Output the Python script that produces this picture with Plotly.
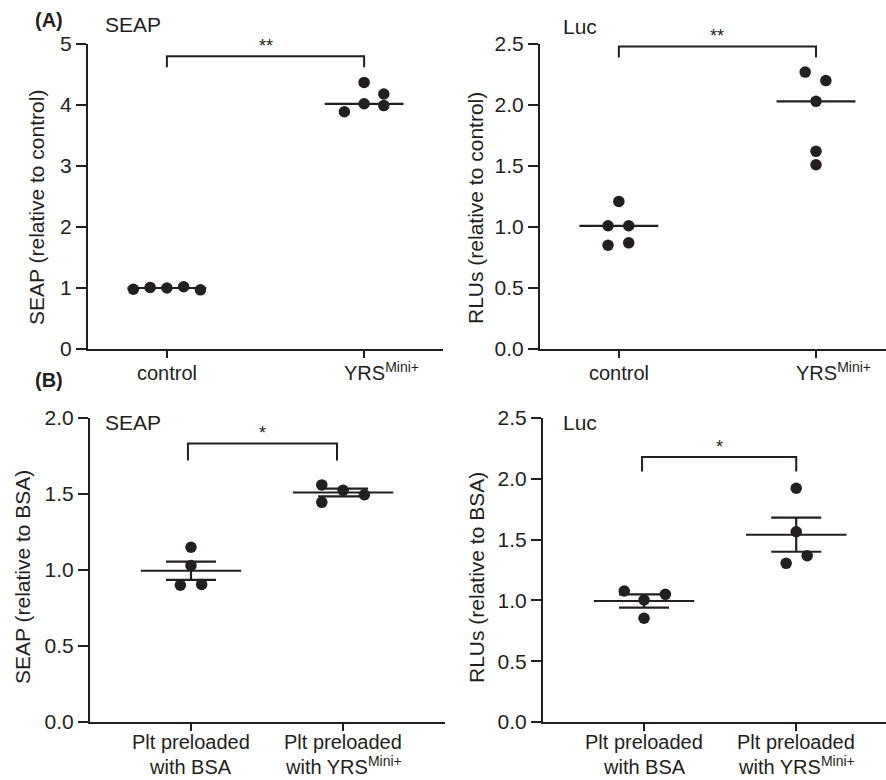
import plotly.graph_objects as go

# ---------------- data ----------------
# Panel A, SEAP
a_seap_categories = ["control", "YRS<sup>Mini+</sup>"]
a_seap_control = [0.98, 1.01, 1.00, 1.02, 0.97]
a_seap_yrs = [3.89, 4.37, 4.02, 4.18, 3.99]
a_seap_medians = [1.00, 4.02]
a_seap_yticks = [0, 1, 2, 3, 4, 5]

# Panel A, Luc
a_luc_categories = ["control", "YRS<sup>Mini+</sup>"]
a_luc_control = [1.21, 1.01, 1.01, 0.85, 0.87]
a_luc_yrs = [2.27, 2.20, 2.03, 1.62, 1.51]
a_luc_medians = [1.01, 2.03]
a_luc_yticks = [0.0, 0.5, 1.0, 1.5, 2.0, 2.5]

# Panel B, SEAP
b_seap_categories = [["Plt preloaded", "with BSA"], ["Plt preloaded", "with YRS<sup>Mini+</sup>"]]
b_seap_bsa = [1.15, 1.03, 0.90, 0.905]
b_seap_yrs = [1.56, 1.445, 1.525, 1.495]
b_seap_means = [0.995, 1.51]
b_seap_sem = [0.06, 0.025]
b_seap_yticks = [0.0, 0.5, 1.0, 1.5, 2.0]

# Panel B, Luc
b_luc_categories = [["Plt preloaded", "with BSA"], ["Plt preloaded", "with YRS<sup>Mini+</sup>"]]
b_luc_bsa = [1.077, 1.05, 1.003, 0.853]
b_luc_yrs = [1.922, 1.565, 1.305, 1.368]
b_luc_means = [0.995, 1.54]
b_luc_sem = [0.055, 0.14]
b_luc_yticks = [0.0, 0.5, 1.0, 1.5, 2.0, 2.5]

# significance labels
sig_labels = ["**", "**", "*", "*"]

# ---------------- layout / style (positions) ----------------
W, H = 886, 780
INK = "#231f20"
FONT = "Liberation Sans, Arial, Helvetica, sans-serif"
FS = 20

# scatter offsets (horizontal spread of dots, category units)
a_seap_control_dx = [-0.17, -0.085, 0.0, 0.085, 0.17]
a_seap_yrs_dx = [-0.10, 0.0, 0.0, 0.10, 0.10]
a_luc_control_dx = [0.0, -0.055, 0.05, -0.055, 0.05]
a_luc_yrs_dx = [-0.055, 0.05, 0.0, 0.0, 0.0]
b_seap_bsa_dx = [0.0, 0.0, -0.07, 0.07]
b_seap_yrs_dx = [-0.14, -0.14, 0.0, 0.14]
b_luc_bsa_dx = [-0.13, 0.14, 0.0, 0.0]
b_luc_yrs_dx = [0.0, 0.0, -0.066, 0.072]

# brackets: (x_left, x_right, y_top, y_foot)
brackets = [
    (0.0, 1.0, 4.80, 4.62),
    (0.0, 1.0, 2.48, 2.39),
    (-0.02, 0.96, 1.833, 1.72),
    (-0.013, 1.0, 2.18, 2.06),
]


def px_x(p):
    return p / W


def px_y(p):
    return 1 - p / H


# panels: (x domain px, y domain px (top, bottom), x range, y max)
panels = [
    ((88, 443), (44, 349), (-0.40, 1.40), 5),
    ((540, 886), (44, 349), (-0.40, 1.355), 2.5),
    ((90, 445), (418, 722), (-0.664, 1.67), 2.0),
    ((543, 886), (418, 722), (-0.664, 1.59), 2.5),
]

fig = go.Figure()


def ax(k):
    return "" if k == 1 else str(k)


def dots(vals, cat, dx, k):
    fig.add_trace(go.Scatter(
        x=[cat + d for d in dx], y=vals, mode="markers",
        marker=dict(size=11.5, color=INK), cliponaxis=False,
        xaxis="x" + ax(k), yaxis="y" + ax(k),
        showlegend=False, hoverinfo="y"))


def hline(cat, val, hw, k):
    fig.add_trace(go.Scatter(
        x=[cat - hw, cat + hw], y=[val, val], mode="lines",
        line=dict(color=INK, width=2.2), cliponaxis=False,
        xaxis="x" + ax(k), yaxis="y" + ax(k),
        showlegend=False, hoverinfo="skip"))


def sem_bars(means, sems, k):
    fig.add_trace(go.Scatter(
        x=[0, 1], y=means, mode="markers",
        marker=dict(size=1, color="rgba(0,0,0,0)"),
        error_y=dict(type="data", array=sems, visible=True, color=INK,
                     thickness=2.2, width=25),
        xaxis="x" + ax(k), yaxis="y" + ax(k),
        showlegend=False, hoverinfo="skip"))


def bracket(b, label, k):
    x0, x1, yt, yf = b
    fig.add_trace(go.Scatter(
        x=[x0, x0, x1, x1], y=[yf, yt, yt, yf], mode="lines",
        line=dict(color=INK, width=2), cliponaxis=False,
        xaxis="x" + ax(k), yaxis="y" + ax(k),
        showlegend=False, hoverinfo="skip"))
    fig.add_annotation(x=(x0 + x1) / 2, y=yt, text=label, showarrow=False,
                       xref="x" + ax(k), yref="y" + ax(k),
                       yanchor="bottom", yshift=-2,
                       font=dict(size=18, color=INK, family=FONT))


# Panel 1: A SEAP
dots(a_seap_control, 0, a_seap_control_dx, 1)
dots(a_seap_yrs, 1, a_seap_yrs_dx, 1)
for i, m in enumerate(a_seap_medians):
    hline(i, m, 0.2, 1)
bracket(brackets[0], sig_labels[0], 1)

# Panel 2: A Luc
dots(a_luc_control, 0, a_luc_control_dx, 2)
dots(a_luc_yrs, 1, a_luc_yrs_dx, 2)
for i, m in enumerate(a_luc_medians):
    hline(i, m, 0.2, 2)
bracket(brackets[1], sig_labels[1], 2)

# Panel 3: B SEAP
dots(b_seap_bsa, 0, b_seap_bsa_dx, 3)
dots(b_seap_yrs, 1, b_seap_yrs_dx, 3)
for i, m in enumerate(b_seap_means):
    hline(i, m, 0.33, 3)
sem_bars(b_seap_means, b_seap_sem, 3)
bracket(brackets[2], sig_labels[2], 3)

# Panel 4: B Luc
dots(b_luc_bsa, 0, b_luc_bsa_dx, 4)
dots(b_luc_yrs, 1, b_luc_yrs_dx, 4)
for i, m in enumerate(b_luc_means):
    hline(i, m, 0.33, 4)
sem_bars(b_luc_means, b_luc_sem, 4)
bracket(brackets[3], sig_labels[3], 4)

yticks_all = [a_seap_yticks, a_luc_yticks, b_seap_yticks, b_luc_yticks]
ytick_fmt = ["{:d}", "{:.1f}", "{:.1f}", "{:.1f}"]

layout = dict(
    width=W, height=H, margin=dict(l=0, r=0, t=0, b=0, autoexpand=False),
    paper_bgcolor="white", plot_bgcolor="white",
    font=dict(family=FONT, size=FS, color=INK),
    showlegend=False,
)
for k, (xd, yd, xr, ymax) in enumerate(panels, start=1):
    sx = ax(k)
    layout["xaxis" + sx] = dict(
        domain=[px_x(xd[0]), px_x(xd[1])], range=list(xr),
        anchor="y" + sx, showgrid=False, zeroline=False, automargin=False,
        showline=True, linewidth=2, linecolor=INK,
        ticks="outside", ticklen=7, tickwidth=2, tickcolor=INK,
        tickvals=[0, 1], showticklabels=False, fixedrange=True)
    layout["yaxis" + sx] = dict(
        domain=[px_y(yd[1]), px_y(yd[0])], range=[0, ymax],
        anchor="x" + sx, showgrid=False, zeroline=False, automargin=False,
        showline=True, linewidth=2, linecolor=INK,
        ticks="outside", ticklen=10, tickwidth=2, tickcolor=INK,
        tickvals=yticks_all[k - 1],
        ticktext=[ytick_fmt[k - 1].format(v) for v in yticks_all[k - 1]],
        tickfont=dict(size=FS + 1, color=INK, family=FONT), fixedrange=True)

fig.update_layout(**layout)

# category labels of panel A (the superscript hangs off to the right of "YRS")
for k, cats in ((1, a_seap_categories), (2, a_luc_categories)):
    fig.add_annotation(x=0, y=px_y(386), xref="x" + ax(k), yref="paper", text=cats[0],
                       showarrow=False, xanchor="center", yanchor="bottom",
                       font=dict(size=FS, color=INK, family=FONT))
    fig.add_annotation(x=1, y=px_y(386), xref="x" + ax(k), yref="paper", text=cats[1],
                       showarrow=False, xanchor="left", yanchor="bottom", xshift=-22,
                       font=dict(size=FS, color=INK, family=FONT))

# category labels of panel B (two lines each)
for k, cats in ((3, b_seap_categories), (4, b_luc_categories)):
    for i, lines in enumerate(cats):
        for j, line in enumerate(lines):
            fig.add_annotation(x=i, y=px_y(755 + 25 * j), xref="x" + ax(k), yref="paper",
                               text=line, showarrow=False, xanchor="center",
                               yanchor="bottom",
                               font=dict(size=FS, color=INK, family=FONT))

# y-axis titles
ytitles = [
    ("SEAP (relative to control)", 37, 208),
    ("RLUs (relative to control)", 476, 208),
    ("SEAP (relative to BSA)", 22, 577),
    ("RLUs (relative to BSA)", 476, 578),
]
for t, x, y in ytitles:
    fig.add_annotation(x=px_x(x), y=px_y(y), xref="paper", yref="paper", text=t,
                       showarrow=False, textangle=-90, xanchor="center", yanchor="middle",
                       font=dict(size=FS + 1, color=INK, family=FONT))

# panel titles
ptitles = [("SEAP", 103, 25), ("Luc", 561, 27), ("SEAP", 103, 422), ("Luc", 561, 422)]
for t, x, y in ptitles:
    fig.add_annotation(x=px_x(x), y=px_y(y), xref="paper", yref="paper", text=t,
                       showarrow=False, xanchor="left", yanchor="middle",
                       font=dict(size=FS + 1, color=INK, family=FONT))

# panel letters
for t, x, y in (("(A)", 33, 20), ("(B)", 33, 380)):
    fig.add_annotation(x=px_x(x), y=px_y(y), xref="paper", yref="paper", text="<b>" + t + "</b>",
                       showarrow=False, xanchor="left", yanchor="middle",
                       font=dict(size=FS, color=INK, family=FONT))

# the page's default body margin would push the 886x780 figure off the window
fig.write_html("out.html", config={"displayModeBar": False},
               post_script="document.body.style.margin='0px';")
